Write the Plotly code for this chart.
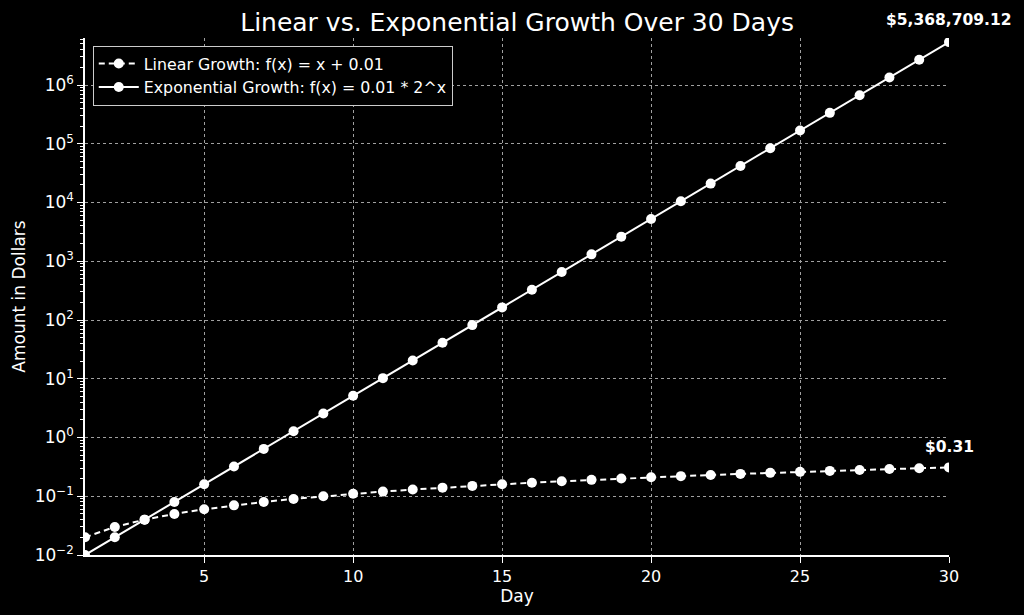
import math
import plotly.graph_objects as go

days = list(range(1, 31))
linear_values = [0.02, 0.03, 0.04, 0.05, 0.06, 0.07, 0.08, 0.09, 0.10, 0.11,
                 0.12, 0.13, 0.14, 0.15, 0.16, 0.17, 0.18, 0.19, 0.20, 0.21,
                 0.22, 0.23, 0.24, 0.25, 0.26, 0.27, 0.28, 0.29, 0.30, 0.31]
exp_values = [0.01, 0.02, 0.04, 0.08, 0.16, 0.32, 0.64, 1.28, 2.56, 5.12,
              10.24, 20.48, 40.96, 81.92, 163.84, 327.68, 655.36, 1310.72,
              2621.44, 5242.88, 10485.76, 20971.52, 41943.04, 83886.08,
              167772.16, 335544.32, 671088.64, 1342177.28, 2684354.56,
              5368709.12]
ytick_vals = [1e-2, 1e-1, 1e0, 1e1, 1e2, 1e3, 1e4, 1e5, 1e6]
ytick_text = ["10<sup>\u22122</sup>", "10<sup>\u22121</sup>", "10<sup>0</sup>",
              "10<sup>1</sup>", "10<sup>2</sup>", "10<sup>3</sup>",
              "10<sup>4</sup>", "10<sup>5</sup>", "10<sup>6</sup>"]
minor_vals = [m * 10 ** e for e in range(-2, 7) for m in range(2, 10)]

FONT = "DejaVu Sans"

fig = go.Figure()
fig.add_trace(go.Scatter(
    x=days, y=linear_values, mode="lines+markers",
    name="Linear Growth: f(x) = x + 0.01",
    line=dict(color="white", width=2, dash="6px,4px"),
    marker=dict(color="white", size=10),
))
fig.add_trace(go.Scatter(
    x=days, y=exp_values, mode="lines+markers",
    name="Exponential Growth: f(x) = 0.01 * 2^x",
    line=dict(color="white", width=2),
    marker=dict(color="white", size=10),
))

# labels at the last points (log axis -> annotation y in log10 units)
fig.add_annotation(x=days[-1], y=math.log10(exp_values[-1]),
                   text="<b>$5,368,709.12</b>", showarrow=False,
                   yshift=22, font=dict(family=FONT, size=15.5, color="white"))
fig.add_annotation(x=days[-1], y=math.log10(linear_values[-1]),
                   text="<b>$0.31</b>", showarrow=False,
                   yshift=20, font=dict(family=FONT, size=15.5, color="white"))

fig.update_layout(
    width=1024, height=615,
    paper_bgcolor="black", plot_bgcolor="black",
    margin=dict(l=85, r=75, t=38, b=60),
    font=dict(family=FONT, color="white", size=16),
    title=dict(text="Linear vs. Exponential Growth Over 30 Days",
               x=0.505, xanchor="center", y=0.964, yref="container",
               yanchor="middle", font=dict(size=25, color="white")),
    showlegend=True,
    legend=dict(x=0.009, y=0.985, xanchor="left", yanchor="top",
                bgcolor="black", bordercolor="#cccccc", borderwidth=1,
                font=dict(size=15.8, color="white"), tracegroupgap=0,
                itemwidth=40),
)
fig.update_xaxes(
    range=[1, 30], tickvals=[5, 10, 15, 20, 25, 30],
    showgrid=True, gridcolor="#a0a0a0", griddash="3px,3px", gridwidth=0.8,
    showline=True, linecolor="white", linewidth=1.5, mirror=False,
    ticks="outside", tickcolor="white", ticklen=6, tickwidth=1.2,
    zeroline=False, tickfont=dict(size=16), automargin=False,
    title=dict(text="Day", font=dict(size=17), standoff=3),
)
fig.update_yaxes(
    type="log", range=[-2, 6.8],
    tickmode="array", tickvals=ytick_vals, ticktext=ytick_text,
    showgrid=True, gridcolor="#a0a0a0", griddash="3px,3px", gridwidth=0.8,
    showline=True, linecolor="white", linewidth=1.5, mirror=False,
    ticks="outside", tickcolor="white", ticklen=6, tickwidth=1.2,
    minor=dict(tickvals=minor_vals, ticks="outside", ticklen=3,
               tickcolor="white", showgrid=False),
    zeroline=False, tickfont=dict(size=17), automargin=False,
    title=dict(text="Amount in Dollars", font=dict(size=17), standoff=5),
)

fig.write_html("out.html", config={"displayModeBar": False},
               post_script="document.body.style.margin='0';")
